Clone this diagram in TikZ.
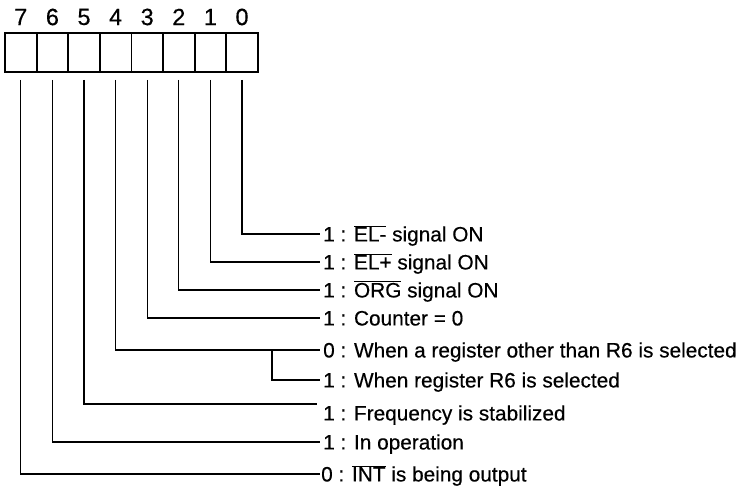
\documentclass[tikz,border=0pt]{standalone}
\usepackage{fontspec}
\setmainfont{Liberation Sans}[FakeBold=0.4]
\newcommand{\ovl}[1]{$\overline{\mbox{#1}}$}
\begin{document}
\begin{tikzpicture}[x=1pt,y=-1pt,
  cell/.style={draw, line width=1.8pt, minimum width=31.6pt, minimum height=39pt, inner sep=0pt},
  bitnum/.style={font=\fontsize{23.5}{26}\selectfont, inner sep=0pt},
  lbl/.style={anchor=west, font=\fontsize{20.8}{24}\selectfont, text height=14.9pt, text depth=0pt, inner xsep=3pt, inner ysep=0pt},
  wire/.style={line width=1.2pt}]
\useasboundingbox (0,0) rectangle (738,486);
\foreach \i in {0,...,7} {
  \pgfmathsetmacro{\cx}{20.8+31.6*(7-\i)}
  \node[cell] (c\i) at (\cx,52.5) {};
  \node[bitnum] (n\i) at (\cx,17) {\i};
  \coordinate (s\i) at (\cx,80);
}
\node[lbl] (t0) at (320,234) {1 : \ovl{EL-} signal ON};
\node[lbl] (t1) at (320,262) {1 : \ovl{EL+} signal ON};
\node[lbl] (t2) at (320,290) {1 : \ovl{ORG} signal ON};
\node[lbl] (t3) at (320,318) {1 : Counter = 0};
\node[lbl] (t4) at (320,350) {0 : When a register other than R6 is selected};
\node[lbl] (t4b) at (320,380) {1 : When register R6 is selected};
\node[lbl] (t5) at (320,413) {1 : Frequency is stabilized};
\node[lbl] (t6) at (320,442) {1 : In operation};
\node[lbl, inner xsep=1pt] (t7) at (320,474) {0 : \ovl{INT} is being output};
\coordinate (br) at (272,350);
\coordinate (e5) at (317,404);
\draw[wire] (s0) |- (t0.west);
\draw[wire] (s1) |- (t1.west);
\draw[wire] (s2) |- (t2.west);
\draw[wire] (s3) |- (t3.west);
\draw[wire] (s4) |- (t4.west);
\draw[wire] (br) |- (t4b.west);
\draw[wire] (s5) |- (e5);
\draw[wire] (s6) |- (t6.west);
\draw[wire] (s7) |- (t7.west);
\end{tikzpicture}
\end{document}
